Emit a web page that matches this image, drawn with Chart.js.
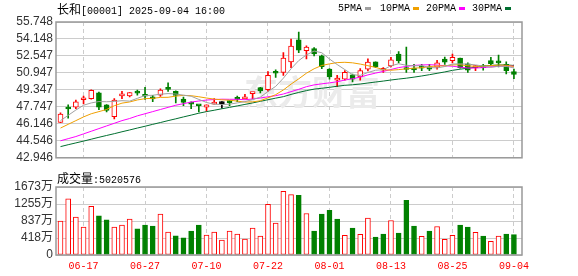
<!DOCTYPE html>
<html>
<head>
<meta charset="utf-8">
<script src="https://cdn.jsdelivr.net/npm/chart.js@4.4.1/dist/chart.umd.min.js"></script>
<style>
body { margin: 0; background: #fff; }
#wrap { position: relative; width: 578px; height: 276px; overflow: hidden; }
#kline { position: absolute; left: 0; top: 0; }
#vol { position: absolute; left: 0; top: 168px; }
.t { position: absolute; white-space: nowrap; font-family: "Liberation Mono", monospace; font-size: 10px; line-height: 12px; color: #000; }
.cjk { font-family: "Noto Sans CJK SC", sans-serif; font-size: 12px; }
.mk { position: absolute; width: 6px; height: 3px; }
</style>
</head>
<body>
<div id="wrap">
  <canvas id="kline" width="578" height="168"></canvas>
  <canvas id="vol" width="578" height="108"></canvas>
  <div class="t" style="left:57px;top:3px"><span class="cjk">长和</span>[00001] 2025-09-04 16:00</div>
  <div id="legend"></div>
  <div class="t" style="left:57px;top:172px"><span class="cjk">成交量</span>:5020576</div>
</div>
<script>
// trading days shown (index = position on the x axis)
var dates = ['06-12','06-13','06-16','06-17','06-18','06-19','06-20','06-23','06-24','06-25',
             '06-26','06-27','06-30','07-02','07-03','07-04','07-07','07-08','07-09','07-10',
             '07-11','07-14','07-15','07-16','07-17','07-18','07-21','07-22','07-23','07-24',
             '07-25','07-28','07-29','07-30','07-31','08-01','08-04','08-05','08-06','08-07',
             '08-08','08-11','08-12','08-13','08-14','08-15','08-18','08-19','08-20','08-21',
             '08-22','08-25','08-26','08-27','08-28','08-29','09-01','09-02','09-03','09-04'];
var tickDates = ['06-17','06-27','07-10','07-22','08-01','08-13','08-25','09-04'];

var open = [46.29, 47.60, 47.72, 48.42, 48.52, 49.06, 47.93, 46.82, 48.78, 48.79,
            49.08, 48.85, 48.54, 48.86, 49.45, 49.21, 48.47, 48.04, 47.88, 47.72,
            48.00, 48.05, 48.18, 48.48, 48.50, 48.99, 49.57, 49.37, 50.96, 51.00,
            51.99, 54.07, 53.04, 53.24, 52.55, 51.30, 50.26, 50.35, 50.76, 50.56,
            51.30, 51.99, 51.20, 51.60, 52.73, 51.45, 51.25, 51.42, 51.51, 51.48,
            52.26, 52.10, 52.35, 51.81, 51.45, 51.48, 52.10, 51.93, 51.75, 51.07];
var high = [47.18, 47.93, 48.38, 48.77, 49.36, 49.15, 47.96, 48.52, 49.21, 49.10,
            49.33, 49.60, 48.83, 49.45, 50.02, 49.25, 48.68, 48.23, 47.88, 47.95,
            48.52, 48.25, 48.32, 48.77, 48.92, 49.01, 49.60, 51.07, 51.25, 52.86,
            54.14, 54.79, 53.51, 53.33, 52.64, 51.36, 50.71, 51.16, 50.85, 51.36,
            52.28, 51.99, 51.45, 52.41, 52.95, 53.39, 51.75, 51.75, 51.75, 52.14,
            52.44, 52.73, 52.35, 51.90, 51.65, 51.75, 52.41, 52.64, 51.99, 51.30];
var low = [46.25, 46.68, 47.58, 48.02, 48.47, 47.49, 47.27, 46.62, 48.52, 48.68,
           48.86, 48.45, 48.23, 48.74, 49.20, 48.11, 47.87, 47.57, 47.27, 47.33,
           48.00, 47.63, 47.87, 48.23, 48.50, 48.52, 49.06, 49.21, 50.53, 50.71,
           51.45, 52.86, 52.26, 52.55, 51.36, 50.35, 49.66, 50.26, 50.11, 50.26,
           51.13, 51.45, 51.00, 51.51, 51.90, 51.00, 51.00, 51.16, 51.16, 51.30,
           51.75, 51.90, 51.40, 51.00, 51.16, 51.20, 51.60, 51.51, 50.85, 50.40];
var close = [47.07, 47.55, 48.23, 48.47, 49.30, 47.72, 47.42, 48.38, 48.83, 49.10,
             49.04, 48.75, 48.50, 49.33, 49.40, 48.83, 48.17, 48.00, 47.85, 47.93,
             48.04, 48.05, 48.15, 48.45, 48.52, 49.01, 49.24, 50.71, 50.92, 52.35,
             53.48, 53.09, 53.39, 52.73, 51.54, 50.56, 50.47, 51.00, 50.35, 51.16,
             51.96, 51.51, 51.27, 52.19, 52.10, 51.27, 51.22, 51.40, 51.30, 51.90,
             51.95, 52.41, 51.45, 51.21, 51.50, 51.45, 51.81, 51.90, 51.16, 50.80];

// volume in 万 shares
var volume = [832, 1379, 930, 686, 1200, 963, 865, 686, 734, 881,
              645, 734, 710, 1004, 563, 473, 424, 588, 734, 490,
              563, 367, 588, 514, 392, 661, 465, 1249, 783, 1567,
              1485, 1469, 1020, 588, 1004, 1102, 881, 481, 661, 506,
              906, 441, 514, 849, 539, 1347, 710, 457, 588, 702,
              384, 481, 734, 686, 555, 465, 335, 465, 514, 502.0576];

var ma5 = [46.45, 46.95, 47.45, 47.90, 48.12, 48.25, 48.23, 48.26, 48.33, 48.29,
           48.55, 48.82, 48.84, 48.94, 49.00, 48.96, 48.85, 48.75, 48.45, 48.16,
           48.00, 47.97, 48.00, 48.12, 48.24, 48.44, 48.67, 49.19, 49.68, 50.45,
           51.34, 52.11, 52.65, 53.01, 52.85, 52.26, 51.74, 51.26, 50.78, 50.71,
           50.99, 51.20, 51.25, 51.62, 51.81, 51.67, 51.61, 51.64, 51.46, 51.42,
           51.55, 51.79, 51.80, 51.78, 51.70, 51.60, 51.48, 51.57, 51.56, 51.42];
var ma10 = [45.75, 46.10, 46.45, 46.80, 47.10, 47.30, 47.50, 47.85, 48.10, 48.21,
            48.40, 48.52, 48.55, 48.64, 48.65, 48.76, 48.83, 48.80, 48.70, 48.58,
            48.48, 48.41, 48.38, 48.29, 48.20, 48.22, 48.32, 48.60, 48.90, 49.34,
            49.89, 50.39, 50.92, 51.34, 51.65, 51.80, 51.92, 51.95, 51.90, 51.78,
            51.63, 51.47, 51.26, 51.20, 51.26, 51.33, 51.40, 51.44, 51.54, 51.61,
            51.61, 51.70, 51.72, 51.62, 51.56, 51.58, 51.64, 51.69, 51.67, 51.56];
var ma20 = [44.55, 44.75, 44.95, 45.20, 45.45, 45.70, 45.95, 46.20, 46.45, 46.65,
            46.90, 47.10, 47.30, 47.50, 47.70, 47.90, 48.05, 48.20, 48.30, 48.39,
            48.44, 48.47, 48.46, 48.46, 48.42, 48.49, 48.58, 48.70, 48.80, 48.96,
            49.18, 49.40, 49.65, 49.82, 49.92, 50.01, 50.12, 50.27, 50.40, 50.56,
            50.76, 50.93, 51.09, 51.27, 51.45, 51.56, 51.66, 51.70, 51.72, 51.69,
            51.62, 51.58, 51.49, 51.41, 51.41, 51.45, 51.52, 51.57, 51.61, 51.59];
var ma30 = [44.00, 44.18, 44.35, 44.52, 44.70, 44.88, 45.05, 45.22, 45.40, 45.57,
            45.75, 45.92, 46.10, 46.27, 46.45, 46.62, 46.80, 46.97, 47.15, 47.30,
            47.43, 47.57, 47.70, 47.84, 47.98, 48.12, 48.27, 48.42, 48.57, 48.71,
            48.92, 49.11, 49.28, 49.42, 49.50, 49.59, 49.69, 49.78, 49.83, 49.90,
            50.00, 50.09, 50.18, 50.28, 50.37, 50.45, 50.55, 50.66, 50.78, 50.91,
            51.04, 51.19, 51.30, 51.39, 51.49, 51.57, 51.66, 51.69, 51.70, 51.65];

var priceTicks = [42.946, 44.546, 46.146, 47.747, 49.347, 50.947, 52.547, 54.148, 55.748];
var volTicks = [0, 418.25, 836.5, 1254.75, 1673];

var maNames = ['5PMA', '10PMA', '20PMA', '30PMA'];
var maData = [ma5, ma10, ma20, ma30];
var maColors = ['#a0a0a0', '#f0a000', '#ff00ff', '#006f30'];

var UP = '#ff0000';
var DOWN = '#008000';

// legend (text then small colour mark)
var legendLeft = [338, 380, 426, 472];
var lg = document.getElementById('legend');
maNames.forEach(function (n, k) {
    var t = document.createElement('div');
    t.className = 't';
    t.style.left = legendLeft[k] + 'px';
    t.style.top = '3px';
    t.textContent = n;
    lg.appendChild(t);
    var m = document.createElement('div');
    m.className = 'mk';
    m.style.left = (legendLeft[k] + n.length * 6 + 3) + 'px';
    m.style.top = '7px';
    m.style.background = maColors[k];
    lg.appendChild(m);
});

var idx = dates.map(function (d, i) { return i; });
var xTicks = tickDates.map(function (d) { return dates.indexOf(d); });
var candleColor = idx.map(function (i) {
    return close[i] > open[i] ? UP : (close[i] < open[i] ? DOWN : '#000');
});
var volUp = idx.map(function (i) { return i == 0 || close[i] >= close[i - 1]; });

function xAxis(showLabels) {
    return {
        type: 'linear',
        min: -0.585,
        max: 60.05,
        offset: false,
        afterBuildTicks: function (s) { s.ticks = xTicks.map(function (v) { return {value: v}; }); },
        afterFit: function (s) { s.height = showLabels ? 21 : 3; },
        grid: { color: '#cccccc', lineWidth: 1, drawTicks: false, offset: false },
        border: { display: false, dash: [4, 3] },
        ticks: {
            display: showLabels,
            autoSkip: false,
            maxRotation: 0,
            padding: 5,
            color: '#ff0000',
            font: { family: 'Liberation Mono', size: 10 },
            callback: function (v) { return dates[v]; }
        }
    };
}

var frame = {
    id: 'frame',
    beforeDatasetsDraw: function (chart, args, opts) {
        if (!opts.mark) return;
        var c = chart.ctx, a = chart.chartArea;
        c.save();
        c.fillStyle = '#ebebeb';
        c.font = 'bold 34px "Noto Sans CJK SC"';
        c.textAlign = 'center';
        c.textBaseline = 'middle';
        c.fillText(opts.mark, a.left + 256, a.top + 70);
        c.restore();
    },
    afterDraw: function (chart) {
        var c = chart.ctx, a = chart.chartArea;
        c.save();
        c.strokeStyle = '#999999';
        c.lineWidth = 1.5;
        c.strokeRect(a.left, a.top, a.right - a.left, a.bottom - a.top);
        c.restore();
    }
};

var ctx = document.getElementById('kline');

var datasets = maNames.map(function (n, k) {
    return {
        type: 'line',
        label: n,
        data: idx.map(function (i) { return {x: i, y: maData[k][i]}; }),
        borderColor: maColors[k],
        borderWidth: 1,
        pointRadius: 0,
        tension: 0,
        order: 0
    };
});
datasets.push({
    type: 'bar',
    label: 'body',
    data: idx.map(function (i) { return {x: i, y: [open[i], close[i]]}; }),
    backgroundColor: idx.map(function (i) { return close[i] > open[i] ? '#ffffff' : candleColor[i]; }),
    borderColor: candleColor,
    borderWidth: 1,
    borderSkipped: false,
    barThickness: 5,
    minBarLength: 2,
    grouped: false,
    order: 1
});
datasets.push({
    type: 'bar',
    label: 'wick',
    data: idx.map(function (i) { return {x: i, y: [low[i], high[i]]}; }),
    backgroundColor: candleColor,
    barThickness: 1,
    grouped: false,
    order: 2
});

var chart = new Chart(ctx, {
    type: 'bar',
    data: { datasets: datasets },
    options: {
        responsive: false,
        animation: false,
        events: [],
        layout: { padding: { top: 22, right: 56, bottom: 0, left: 0 } },
        plugins: { legend: { display: false }, tooltip: { enabled: false }, frame: { mark: '东方财富' } },
        scales: {
            x: xAxis(false),
            y: {
                min: 42.946,
                max: 55.748,
                afterBuildTicks: function (s) { s.ticks = priceTicks.map(function (v) { return {value: v}; }); },
                afterFit: function (s) { s.width = 56; },
                grid: { color: '#cccccc', drawTicks: false },
                border: { display: false },
                ticks: {
                    autoSkip: false,
                    padding: 3,
                    color: '#333333',
                    font: { family: 'Liberation Sans', size: 12 },
                    callback: function (v) { return v.toFixed(3); }
                }
            }
        }
    },
    plugins: [frame]
});

/******************************************************** */
var ctx2 = document.getElementById('vol');

var chart2 = new Chart(ctx2, {
    type: 'bar',
    data: {
        datasets: [{
            label: 'volume',
            data: idx.map(function (i) { return {x: i, y: volume[i]}; }),
            backgroundColor: volUp.map(function (u) { return u ? '#ffffff' : DOWN; }),
            borderColor: volUp.map(function (u) { return u ? UP : DOWN; }),
            borderWidth: 1,
            borderSkipped: false,
            barThickness: 5
        }]
    },
    options: {
        responsive: false,
        animation: false,
        events: [],
        layout: { padding: { top: 19, right: 56, bottom: 0, left: 0 } },
        plugins: { legend: { display: false }, tooltip: { enabled: false }, frame: {} },
        scales: {
            x: xAxis(true),
            y: {
                min: 0,
                max: 1673,
                afterBuildTicks: function (s) { s.ticks = volTicks.map(function (v) { return {value: v}; }); },
                afterFit: function (s) { s.width = 56; },
                grid: { color: '#cccccc', drawTicks: false },
                border: { display: false },
                ticks: {
                    autoSkip: false,
                    padding: 3,
                    color: '#333333',
                    font: { family: "'Liberation Sans', 'Noto Sans CJK SC'", size: 12 },
                    callback: function (v) { return v == 0 ? '0' : Math.round(v) + '万'; }
                }
            }
        }
    },
    plugins: [frame]
});
</script>
</body>
</html>
